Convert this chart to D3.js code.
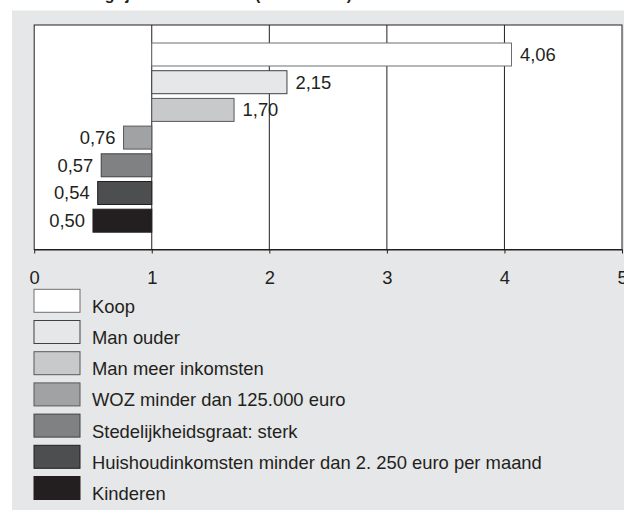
<!DOCTYPE html>
<html>
<head>
<meta charset="utf-8">
<script src="https://cdn.jsdelivr.net/npm/d3@7"></script>
<style>
  html, body { margin: 0; padding: 0; background: #ffffff; }
  svg { display: block; }
  text { font-family: "Liberation Sans", Arial, sans-serif; fill: #231f20; }
</style>
</head>
<body>
<svg id="chart" width="624" height="516"></svg>
<script>
// ---- data ----
const categories = ["Koop", "Man ouder", "Man meer inkomsten", "WOZ minder dan 125.000 euro",
  "Stedelijkheidsgraat: sterk", "Huishoudinkomsten minder dan 2. 250 euro per maand", "Kinderen"];
const oddsRatios = [4.06, 2.15, 1.70, 0.76, 0.57, 0.54, 0.50];
const fills = ["#ffffff", "#e6e7e8", "#c8c9ca", "#a1a2a4", "#808183", "#4d4e50", "#231f20"];
const strokes = ["#6d6e70", "#414042", "#58595b", "#58595b", "#414042", "#231f20", "#231f20"];
const xTicks = [0, 1, 2, 3, 4, 5];
const titleText = "Belangrijkste kenmerken (odds ratios)";

// ---- layout ----
const svg = d3.select("#chart");
const plot = { left: 34.2, right: 622, top: 25, bottom: 249.5 };

const x = d3.scaleLinear().domain([0, 5]).range([plot.left, plot.right]);
const y = d3.scaleBand().domain(categories).range([38.3, 236.9]).paddingInner(0.17).paddingOuter(0.17);
const nl = d3.formatLocale({ decimal: ",", thousands: ".", grouping: [3], currency: ["€", ""] });
const fmt = nl.format(".2f");

// title (cropped at top)
svg.append("text").attr("x", 352).attr("y", 0).attr("text-anchor", "end")
  .style("font-weight", "bold").style("font-size", "16px").text(titleText);

// grey panel
svg.append("rect").attr("x", 12).attr("y", 10.5).attr("width", 612).attr("height", 499.5).attr("fill", "#e6e7e8");

// plot area
svg.append("rect").attr("x", plot.left).attr("y", plot.top)
  .attr("width", plot.right - plot.left).attr("height", plot.bottom - plot.top)
  .attr("fill", "#ffffff").attr("stroke", "#231f20").attr("stroke-width", 1);

// gridlines
svg.append("g").selectAll("line").data(xTicks.filter(d => d > 0 && d < 5)).join("line")
  .attr("x1", d => x(d)).attr("x2", d => x(d))
  .attr("y1", plot.top).attr("y2", plot.bottom)
  .attr("stroke", "#231f20").attr("stroke-width", 1);

// axis
const axis = svg.append("g").attr("transform", `translate(0,${plot.bottom})`)
  .call(d3.axisBottom(x).tickValues(xTicks).tickFormat(d3.format("d")).tickSize(4).tickSizeOuter(0).tickPadding(17));
axis.select(".domain").attr("stroke", "#231f20");
axis.selectAll(".tick line").attr("stroke", "#231f20");
axis.selectAll(".tick text").style("font-size", "18.4px").attr("fill", "#231f20")
  .style("font-family", "'Liberation Sans', Arial, sans-serif");

// bars
svg.append("g").selectAll("rect").data(categories).join("rect")
  .attr("x", (d, i) => Math.min(x(1), x(oddsRatios[i])))
  .attr("y", d => y(d))
  .attr("width", (d, i) => Math.abs(x(oddsRatios[i]) - x(1)))
  .attr("height", y.bandwidth())
  .attr("fill", (d, i) => fills[i])
  .attr("stroke", (d, i) => strokes[i]).attr("stroke-width", 1);

// value labels
svg.append("g").selectAll("text").data(categories).join("text")
  .attr("x", (d, i) => oddsRatios[i] >= 1 ? x(oddsRatios[i]) + 8.5 : x(oddsRatios[i]) - 8)
  .attr("y", d => y(d) + y.bandwidth() / 2 + 6.5)
  .attr("text-anchor", (d, i) => oddsRatios[i] >= 1 ? "start" : "end")
  .style("font-size", "18.4px")
  .text((d, i) => fmt(oddsRatios[i]));

// legend
const legStep = 31.2;
const leg = svg.append("g").selectAll("g").data(categories).join("g")
  .attr("transform", (d, i) => `translate(34,${289.3 + i * legStep})`);
leg.append("rect").attr("width", 46).attr("height", 23)
  .attr("fill", (d, i) => fills[i]).attr("stroke", (d, i) => strokes[i]).attr("stroke-width", 1);
leg.append("text").attr("x", 58).attr("y", 23.5).style("font-size", "18.4px").text(d => d);
</script>
</body>
</html>
